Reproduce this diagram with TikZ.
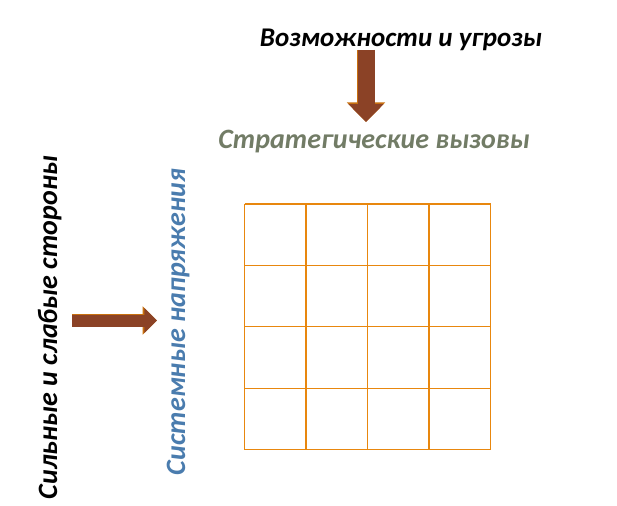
\documentclass[tikz,border=0pt]{standalone}
\usepackage{fontspec}
\setmainfont{Carlito}
\usetikzlibrary{arrows.meta,positioning}
\definecolor{arrowbrown}{HTML}{8B4226}
\definecolor{arroworange}{HTML}{C8700F}
\definecolor{gridorange}{HTML}{E8870E}
\definecolor{challengegray}{HTML}{727C66}
\definecolor{tensionblue}{HTML}{4A7CAE}
\tikzset{
swot/.style={x=1pt,y=-1pt},
caption/.style={font=\fontsize{28}{32}\selectfont\bfseries\itshape,inner sep=0pt,anchor=base},
block arrow/.style={draw=arrowbrown,line width=#1,
  -{Triangle[width=0pt 2,length=0pt 1.05]},
  preaction={draw=arroworange,line width=#1+1.6pt,-{Triangle[width=0pt 2,length=0pt 1.05]}}},
grid line/.style={draw=gridorange,line width=1.1pt},
}
\begin{document}
\begin{tikzpicture}[swot]
\fill[white] (0,0) rectangle (617,505);
\useasboundingbox (0,0) rectangle (617,505);

\node[caption,font=\fontsize{27}{31}\selectfont\bfseries\itshape] (opp) at (401,47) {Возможности и угрозы};
\node[caption,challengegray] (chal) at (374,148) {Стратегические вызовы};
\node[caption,rotate=90] (sw) at (57,327.5) {Сильные и слабые стороны};
\node[caption,rotate=90,tensionblue] (tens) at (185,322) {Системные напряжения};

\coordinate (opp arrow) at (366,50);
\coordinate (chal arrow) at (366,122);
\coordinate (sw arrow) at (72,320.5);
\coordinate (tens arrow) at (157,320.5);
\draw[block arrow=17pt] (opp arrow) -- (chal arrow);
\draw[block arrow=12pt] (sw arrow) -- (tens arrow);

% matrix 4x4
\foreach \i in {0,...,4} {
  \draw[grid line] ({244.5+61.5*\i},204) -- ({244.5+61.5*\i},449.5);
  \draw[grid line] (244.5,{204+61.4*\i}) -- (490.5,{204+61.4*\i});
}
\end{tikzpicture}
\end{document}
